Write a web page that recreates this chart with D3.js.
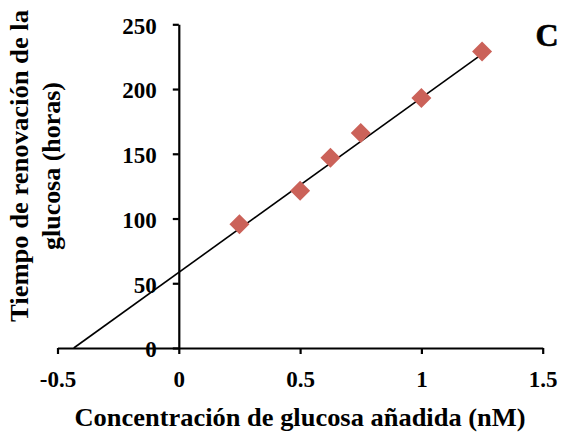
<!DOCTYPE html>
<html>
<head>
<meta charset="utf-8">
<script src="https://cdn.jsdelivr.net/npm/d3@7/dist/d3.min.js"></script>
<style>
  html, body { margin: 0; padding: 0; background: #fff; }
  svg { display: block; }
  text { font-family: "Liberation Serif", "Times New Roman", serif; font-weight: bold; fill: #000; }
</style>
</head>
<body>
<script>
// Glucose turnover time vs. added glucose concentration
const concentration = [0.25, 0.5, 0.625, 0.75, 1.0, 1.25];
const turnoverHours = [95.5, 121.5, 147, 166, 193, 229];
const fitLine = [[-0.433, 0], [1.25, 227]];
const xTicks = [-0.5, 0, 0.5, 1, 1.5];
const yTicks = [0, 50, 100, 150, 200, 250];
const xTitle = "Concentración de glucosa añadida (nM)";
const yTitleLines = ["Tiempo de renovación de la", "glucosa (horas)"];
const panelLabel = "C";

const W = 562, H = 434;
const svg = d3.select("body").append("svg").attr("width", W).attr("height", H);

const x = d3.scaleLinear().domain([-0.5, 1.5]).range([57.5, 542.7]);
const y = d3.scaleLinear().domain([0, 250]).range([348, 24.3]);

// x axis along y = 0
const xAxis = svg.append("g")
  .attr("transform", `translate(0,${y(0)})`)
  .call(d3.axisBottom(x).tickValues(xTicks).tickSize(6).tickSizeOuter(0)
        .tickFormat(d => String(d)));
xAxis.select(".domain").attr("stroke", "#000").attr("stroke-width", 2.2);
xAxis.selectAll(".tick line").attr("stroke", "#000").attr("stroke-width", 2.2);
xAxis.selectAll(".tick text").attr("font-size", 23).attr("y", 39).attr("dy", 0)
  .attr("font-family", "Liberation Serif").attr("font-weight", "bold");

// y axis along x = 0
const yAxis = svg.append("g")
  .attr("transform", `translate(${x(0)},0)`)
  .call(d3.axisLeft(y).tickValues(yTicks).tickSize(6).tickSizeOuter(0));
yAxis.select(".domain").attr("stroke", "#000").attr("stroke-width", 2.2);
yAxis.selectAll(".tick text").attr("font-size", 23).attr("x", -22).attr("dy", "0.38em")
  .attr("font-family", "Liberation Serif").attr("font-weight", "bold");
yAxis.selectAll(".tick line").attr("stroke", "#000").attr("stroke-width", 2.2);

// regression line
svg.append("path")
  .datum(fitLine)
  .attr("fill", "none")
  .attr("stroke", "#000")
  .attr("stroke-width", 1.6)
  .attr("d", d3.line().x(d => x(d[0])).y(d => y(d[1])));

// diamond markers
const r = 10;
svg.append("g").selectAll("path")
  .data(concentration.map((c, i) => [c, turnoverHours[i]]))
  .join("path")
  .attr("fill", "#cb6259")
  .attr("d", d => {
    const cx = x(d[0]), cy = y(d[1]);
    return `M${cx},${cy - r}L${cx + r},${cy}L${cx},${cy + r}L${cx - r},${cy}Z`;
  });

// axis titles
svg.append("text")
  .attr("x", 300).attr("y", 426)
  .attr("text-anchor", "middle")
  .attr("font-size", 26)
  .attr("textLength", 451)
  .attr("lengthAdjust", "spacingAndGlyphs")
  .text(xTitle);

const yt = svg.append("text")
  .attr("transform", "translate(0,166) rotate(-90)")
  .attr("text-anchor", "middle")
  .attr("font-size", 26);
const yLens = [312, 168];
yTitleLines.forEach((line, i) => {
  yt.append("tspan").attr("x", 0).attr("y", 28 + i * 32)
    .attr("textLength", yLens[i]).attr("lengthAdjust", "spacingAndGlyphs")
    .text(line);
});

// panel letter
svg.append("text")
  .attr("x", 547).attr("y", 46)
  .attr("text-anchor", "middle")
  .attr("font-size", 32)
  .attr("stroke", "#000")
  .attr("stroke-width", 0.6)
  .text(panelLabel);
</script>
</body>
</html>
